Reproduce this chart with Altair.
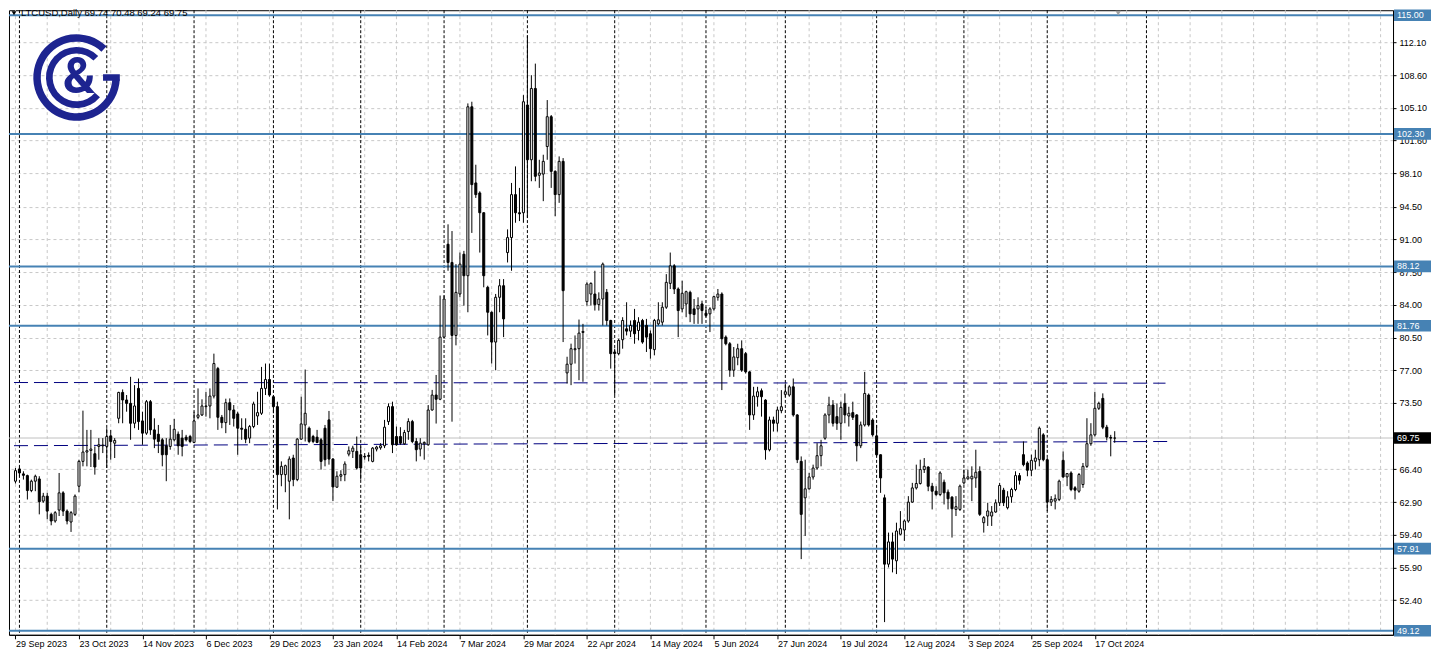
import json
import altair as alt
import pandas as pd

# ---------------- data (LTCUSD, Daily) ----------------
OPEN = [65.13, 66.44, 65.91, 65.73, 64.13, 65.13, 65.37, 63.00, 63.53, 61.58,
        60.87, 62.04, 63.88, 61.93, 60.76, 61.58, 64.59, 67.25, 68.25, 68.42,
        68.07, 68.85, 68.92, 68.85, 69.98, 69.20, 71.86, 74.63, 73.82, 73.46,
        71.33, 75.06, 71.58, 70.27, 73.64, 70.62, 70.16, 69.56, 68.92, 68.85,
        69.56, 70.16, 69.74, 69.84, 69.91, 69.28, 71.97, 72.22, 73.11, 73.18,
        74.24, 77.18, 71.97, 71.40, 73.53, 72.75, 72.33, 70.80, 70.69, 69.74,
        70.98, 72.11, 72.40, 75.06, 76.01, 74.17, 73.11, 65.83, 65.83, 65.13,
        67.61, 65.30, 69.63, 71.15, 70.80, 69.91, 69.84, 69.56, 70.80, 71.69,
        67.50, 64.49, 65.66, 65.83, 68.03, 68.32, 68.32, 67.96, 67.79, 67.89,
        67.25, 68.57, 68.71, 68.92, 71.51, 73.11, 69.91, 69.91, 69.13, 70.45,
        71.51, 69.38, 68.57, 69.13, 69.03, 72.75, 74.35, 73.90, 80.55, 90.49,
        88.54, 80.73, 85.17, 89.42, 87.12, 105.20, 97.05, 95.98, 93.86, 85.88,
        83.21, 80.02, 84.81, 86.05, 89.60, 91.20, 95.80, 93.86, 93.86, 105.39,
        99.53, 107.16, 97.87, 98.00, 100.95, 104.14, 98.29, 95.80, 99.36, 76.72,
        77.65, 79.20, 79.31, 81.05, 84.35, 85.16, 85.16, 84.03, 84.63, 85.34,
        82.33, 78.96, 78.78, 80.27, 81.44, 81.19, 82.33, 81.26, 82.33, 81.80,
        80.91, 79.21, 81.97, 82.15, 83.75, 86.30, 88.18, 85.70, 83.57, 84.10,
        85.34, 83.57, 83.57, 84.10, 83.11, 83.04, 83.57, 84.81, 85.16, 80.55,
        79.84, 77.01, 78.35, 79.31, 78.78, 76.83, 72.22, 74.17, 74.81, 73.81,
        68.49, 71.68, 71.33, 72.68, 74.42, 74.35, 75.23, 72.22, 67.25, 63.35,
        64.31, 65.58, 66.54, 67.86, 69.73, 72.22, 73.28, 72.04, 71.33, 73.46,
        72.11, 72.47, 72.22, 68.92, 71.15, 74.35, 71.68, 69.98, 67.96, 63.35,
        56.25, 58.63, 56.61, 59.45, 59.91, 60.87, 62.89, 64.41, 64.88, 66.37,
        66.65, 64.59, 64.06, 63.70, 65.02, 63.96, 63.42, 62.11, 62.11, 64.95,
        65.38, 65.38, 65.48, 66.19, 60.69, 61.40, 61.40, 61.83, 62.82, 64.17,
        62.29, 63.46, 64.24, 65.73, 67.97, 67.08, 66.30, 67.26, 67.43, 70.09,
        67.43, 62.89, 63.00, 63.18, 67.36, 65.59, 66.01, 64.42, 64.06, 64.77,
        66.72, 69.14, 70.09, 72.93, 73.99, 70.91, 69.81, 69.74]

HIGH = [66.54, 66.72, 66.19, 65.83, 65.30, 65.83, 65.66, 63.88, 63.88, 61.76,
        61.93, 66.01, 64.06, 62.11, 61.93, 63.71, 67.43, 72.68, 70.62, 70.62,
        68.85, 69.74, 69.74, 70.80, 70.62, 69.74, 74.70, 74.95, 74.35, 76.30,
        75.41, 76.12, 72.57, 73.82, 73.82, 71.86, 71.15, 69.74, 69.74, 71.15,
        71.79, 70.45, 70.62, 70.09, 70.09, 72.57, 75.06, 73.89, 74.70, 75.06,
        78.78, 77.36, 72.22, 73.96, 73.99, 73.28, 72.57, 71.86, 71.86, 71.15,
        73.64, 74.70, 77.36, 77.72, 77.72, 74.35, 73.64, 67.25, 66.90, 67.79,
        67.96, 69.74, 74.17, 77.08, 70.98, 70.09, 70.62, 69.74, 71.15, 72.65,
        67.61, 66.19, 66.30, 67.25, 68.85, 68.92, 69.91, 68.85, 68.14, 68.21,
        68.78, 68.92, 69.20, 71.69, 73.46, 73.64, 70.98, 70.91, 70.62, 71.86,
        71.69, 69.74, 69.74, 69.38, 73.28, 74.90, 76.50, 85.00, 85.00, 92.62,
        91.90, 88.36, 89.60, 89.78, 105.56, 105.74, 99.00, 96.16, 93.90, 86.05,
        83.30, 85.17, 86.76, 86.76, 92.08, 97.05, 98.82, 96.52, 106.45, 112.84,
        108.58, 109.82, 99.53, 100.07, 105.92, 104.32, 98.40, 99.89, 99.71, 78.45,
        79.85, 80.73, 82.43, 81.97, 86.41, 86.41, 87.65, 85.34, 88.53, 85.70,
        82.40, 79.31, 80.38, 82.68, 84.28, 82.33, 83.57, 82.68, 82.50, 82.50,
        81.26, 82.50, 84.28, 84.28, 87.29, 89.60, 88.36, 85.87, 86.58, 85.52,
        85.52, 84.63, 84.81, 84.45, 83.75, 83.75, 84.99, 85.70, 85.34, 80.73,
        80.02, 79.49, 79.84, 80.20, 78.96, 76.90, 75.23, 75.23, 75.05, 73.90,
        72.04, 72.04, 73.10, 74.88, 75.59, 75.41, 76.12, 72.30, 67.78, 67.43,
        66.01, 66.90, 69.20, 69.56, 72.40, 74.17, 73.81, 73.46, 73.64, 74.52,
        73.10, 73.64, 72.30, 71.51, 76.83, 74.52, 71.86, 71.15, 68.00, 63.70,
        59.63, 59.63, 60.69, 61.93, 61.04, 63.53, 64.95, 66.90, 67.43, 67.61,
        66.72, 64.95, 64.59, 66.19, 65.30, 64.24, 63.53, 63.53, 64.77, 66.37,
        66.37, 66.72, 68.50, 66.72, 61.40, 62.82, 62.47, 63.18, 64.95, 64.42,
        64.06, 64.42, 66.19, 66.01, 69.38, 67.26, 67.97, 68.50, 70.98, 70.27,
        67.61, 63.53, 63.71, 65.30, 68.32, 66.01, 66.19, 64.60, 66.01, 67.08,
        71.87, 71.34, 74.70, 73.64, 74.53, 71.16, 70.09, 70.48]

LOW = [64.88, 65.66, 65.30, 63.17, 63.95, 64.06, 61.58, 62.82, 61.05, 60.41,
       60.69, 61.40, 61.40, 60.51, 59.70, 61.40, 63.95, 66.72, 66.72, 66.65,
       65.83, 67.43, 68.14, 66.54, 67.43, 67.61, 71.33, 71.33, 72.57, 69.56,
       70.80, 70.62, 69.03, 70.09, 70.09, 68.67, 68.14, 66.72, 65.13, 68.50,
       69.38, 67.96, 67.79, 69.38, 69.20, 69.20, 71.76, 72.11, 72.04, 71.86,
       73.99, 70.62, 70.80, 70.27, 71.15, 70.98, 67.96, 69.56, 69.20, 69.20,
       70.80, 71.15, 72.22, 74.35, 74.17, 72.40, 62.11, 64.59, 63.95, 61.05,
       64.59, 65.13, 69.56, 69.38, 69.20, 69.20, 69.20, 66.37, 66.72, 66.90,
       63.00, 64.42, 65.13, 65.13, 67.79, 67.61, 66.37, 65.30, 67.43, 67.25,
       67.15, 68.32, 68.50, 68.67, 71.15, 68.14, 68.92, 69.03, 69.03, 69.56,
       69.20, 67.25, 67.79, 67.43, 68.92, 72.68, 71.30, 73.80, 80.40, 87.65,
       71.50, 79.67, 84.81, 83.92, 83.21, 91.70, 95.45, 89.60, 85.88, 80.73,
       77.72, 77.00, 83.21, 80.55, 88.54, 87.65, 92.79, 92.97, 92.79, 93.32,
       97.23, 97.23, 96.52, 95.10, 99.53, 96.52, 93.50, 94.92, 80.02, 75.59,
       75.41, 77.72, 75.94, 75.77, 83.92, 83.92, 83.39, 83.39, 81.80, 81.80,
       77.18, 74.35, 78.60, 79.31, 80.73, 80.55, 79.84, 80.20, 79.84, 78.96,
       78.25, 78.60, 81.80, 81.80, 83.57, 85.70, 85.16, 80.55, 83.21, 82.68,
       82.15, 81.97, 81.97, 81.97, 82.68, 81.09, 83.39, 84.45, 74.88, 79.67,
       76.30, 76.30, 77.54, 76.83, 76.65, 70.62, 71.69, 73.11, 72.04, 67.43,
       68.32, 70.44, 70.44, 72.40, 74.17, 74.17, 72.04, 67.07, 56.79, 59.27,
       64.24, 65.30, 66.37, 66.72, 69.56, 71.33, 70.98, 70.62, 69.56, 71.33,
       70.98, 71.68, 67.25, 68.67, 70.98, 70.98, 69.91, 67.78, 63.88, 50.05,
       55.90, 55.37, 55.19, 59.34, 58.74, 60.69, 62.82, 64.24, 64.77, 66.01,
       64.06, 62.11, 63.53, 63.53, 62.64, 62.11, 59.10, 61.40, 61.94, 64.77,
       65.30, 63.00, 64.42, 61.40, 59.63, 60.34, 60.34, 61.76, 62.47, 62.47,
       62.11, 62.82, 64.06, 64.77, 66.72, 65.66, 65.66, 66.37, 66.72, 67.26,
       61.94, 62.47, 62.11, 63.00, 65.48, 64.60, 64.06, 63.18, 63.89, 64.42,
       66.55, 68.92, 69.92, 72.75, 70.70, 69.49, 67.79, 69.24]

CLOSE = [66.26, 66.01, 65.76, 64.13, 65.13, 65.66, 62.93, 63.53, 61.93, 60.87,
         61.76, 63.88, 61.93, 60.87, 61.76, 63.53, 67.25, 68.25, 68.39, 68.57,
         66.65, 69.03, 68.99, 69.91, 69.38, 69.49, 74.63, 73.82, 73.46, 71.33,
         73.18, 71.51, 70.27, 73.64, 70.62, 69.63, 69.38, 67.96, 67.96, 69.63,
         70.69, 68.92, 68.85, 69.56, 69.38, 71.58, 72.22, 73.18, 73.18, 74.24,
         77.72, 71.97, 71.40, 73.53, 72.75, 71.86, 70.80, 70.69, 69.63, 70.98,
         73.39, 72.47, 75.06, 76.01, 74.35, 73.11, 65.83, 66.72, 66.79, 67.50,
         65.30, 69.63, 71.26, 72.40, 69.38, 69.38, 69.28, 67.25, 67.43, 67.50,
         64.52, 65.66, 65.83, 66.97, 68.39, 68.67, 66.54, 66.54, 67.72, 67.79,
         68.67, 68.78, 68.92, 70.91, 73.11, 69.03, 69.03, 69.20, 70.34, 71.51,
         69.38, 68.50, 69.20, 69.28, 72.75, 74.35, 73.90, 80.55, 84.63, 88.54,
         80.73, 85.34, 88.36, 87.12, 105.20, 96.87, 95.80, 93.86, 87.12, 83.21,
         80.02, 84.81, 86.05, 82.50, 91.20, 95.80, 93.86, 93.75, 105.74, 99.53,
         107.16, 97.76, 98.11, 99.36, 104.14, 98.29, 95.80, 99.36, 85.52, 77.65,
         79.31, 79.31, 80.98, 81.16, 86.23, 86.30, 84.03, 84.63, 88.36, 82.33,
         78.78, 78.78, 80.20, 82.33, 81.19, 81.80, 80.91, 82.15, 80.02, 80.55,
         79.31, 82.33, 82.40, 83.75, 86.41, 88.18, 85.70, 83.39, 85.24, 85.41,
         83.04, 82.97, 83.92, 83.39, 82.86, 83.57, 84.88, 85.16, 80.38, 79.84,
         77.01, 78.43, 79.31, 77.01, 76.83, 72.22, 74.24, 74.70, 74.17, 68.49,
         71.68, 71.33, 72.75, 73.10, 74.70, 75.23, 72.22, 67.43, 61.58, 64.31,
         65.58, 66.54, 67.86, 68.92, 72.22, 73.28, 71.33, 71.33, 73.03, 72.22,
         72.40, 71.97, 68.92, 71.15, 74.52, 71.15, 70.09, 67.96, 65.48, 56.25,
         58.63, 56.79, 59.80, 60.05, 60.87, 62.89, 64.41, 64.88, 66.37, 66.72,
         64.59, 64.06, 63.70, 66.01, 63.89, 63.25, 62.18, 62.40, 64.60, 65.48,
         65.59, 65.66, 66.09, 61.58, 61.23, 61.94, 61.83, 62.82, 64.67, 62.82,
         63.46, 64.24, 65.73, 65.23, 66.90, 66.30, 67.36, 67.61, 70.80, 67.43,
         62.89, 63.18, 63.25, 65.13, 65.59, 65.94, 64.24, 64.17, 65.84, 66.72,
         69.14, 70.09, 72.93, 73.46, 70.91, 69.85, 69.74, 69.75]

DATE_LABELS = ["29 Sep 2023", "23 Oct 2023", "14 Nov 2023", "6 Dec 2023",
               "29 Dec 2023", "23 Jan 2024", "14 Feb 2024", "7 Mar 2024",
               "29 Mar 2024", "22 Apr 2024", "14 May 2024", "5 Jun 2024",
               "27 Jun 2024", "19 Jul 2024", "12 Aug 2024", "3 Sep 2024",
               "25 Sep 2024", "17 Oct 2024"]
LABEL_STEP = 16          # bars between date labels
GRID_STEP = 8            # bars between vertical grid lines
MONTH_STARTS = [1, 23, 45, 65, 87, 108, 129, 151, 174, 194, 217, 239, 260, 285]
LEVELS = [115.00, 102.30, 88.12, 81.76, 57.91, 49.12]
Y_TICKS = [112.10, 108.60, 105.10, 101.60, 98.10, 94.50, 91.00, 87.50, 84.00,
           80.50, 77.00, 73.50, 66.40, 62.90, 59.40, 55.90, 52.40]
UPPER_DASH = [75.69, 75.62]   # start / end price
LOWER_DASH = [68.93, 69.38]
DASH_END = [289.8, 290.8]     # bar index where each dashed line ends
LAST_PRICE = 69.75

# ---------------- layout ----------------
FONT = "Liberation Sans"
W, H = 1385, 625
N = len(OPEN)
X_DOM = [-0.375, 345.875]          # 4 px per bar
Y_DOM = [48.692, 115.535]
xs = alt.Scale(domain=X_DOM, nice=False, zero=False)
ys = alt.Scale(domain=Y_DOM, nice=False, zero=False)
LEVEL_BLUE = "#4682b4"
LOGO = "#1d2490"

x_axis = alt.Axis(
    values=list(range(0, N, LABEL_STEP)),
    labelExpr=f"{json.dumps(DATE_LABELS)}[round(datum.value / {LABEL_STEP})]",
    labelAlign="left", labelFont=FONT, labelFontSize=9, labelColor="black",
    labelPadding=1, tickSize=4, tickColor="black", domainColor="black",
    grid=False, title=None, labelOverlap=False, labelFlush=False, labelBound=False,
)
y_axis = alt.Axis(
    orient="right", values=Y_TICKS, format=".2f", labelFont=FONT, labelFontSize=9,
    labelColor="black", labelPadding=3, tickSize=3, tickColor="black",
    domainColor="black", grid=True, gridColor="#c8c8c8", gridDash=[3, 3],
    title=None, labelOverlap=False, labelBound=False,
)


def X(field):
    return alt.X(field, type="quantitative", scale=xs, axis=x_axis)


def Y(field):
    return alt.Y(field, type="quantitative", scale=ys, axis=y_axis)


candles = pd.DataFrame({"i": range(N), "o": OPEN, "h": HIGH, "l": LOW, "c": CLOSE})
candles["fill"] = ["white" if c >= o else "black" for o, c in zip(OPEN, CLOSE)]

one = pd.DataFrame({"a": [0]})

vgrid = alt.Chart(pd.DataFrame({"g": list(range(0, int(X_DOM[1]) + 1, GRID_STEP))})).mark_rule(
    color="#c8c8c8", strokeDash=[3, 3], strokeWidth=1).encode(x=X("g"))

months = alt.Chart(pd.DataFrame({"m": MONTH_STARTS})).mark_rule(
    color="black", strokeDash=[3, 2], strokeWidth=1).encode(x=X("m"))

price_line = alt.Chart(pd.DataFrame({"v": [LAST_PRICE]})).mark_rule(
    color="#c0c0c0", strokeWidth=1).encode(y=Y("v"))

levels = alt.Chart(pd.DataFrame({"v": LEVELS})).mark_rule(
    color=LEVEL_BLUE, strokeWidth=2).encode(y=Y("v"))

dash_df = pd.DataFrame({
    "x0": [X_DOM[0], X_DOM[0]], "x1": DASH_END,
    "y0": [UPPER_DASH[0], LOWER_DASH[0]], "y1": [UPPER_DASH[1], LOWER_DASH[1]],
})
dashed = alt.Chart(dash_df).mark_rule(color="#000080", strokeDash=[14, 6], strokeWidth=1).encode(
    x=X("x0"), x2="x1", y=Y("y0"), y2="y1")

wicks = alt.Chart(candles).mark_rule(color="black", strokeWidth=1).encode(
    x=X("i"), y=Y("l"), y2="h")

bodies = alt.Chart(candles).mark_bar(size=2, stroke="black", strokeWidth=1).encode(
    x=X("i"), y=Y("o"), y2="c",
    fill=alt.Fill("fill", type="nominal", scale=None))

lab_df = pd.DataFrame({
    "v": LEVELS + [LAST_PRICE],
    "txt": [f"{v:.2f}" for v in LEVELS + [LAST_PRICE]],
    "col": [LEVEL_BLUE] * len(LEVELS) + ["black"],
})
lab_df["lo"] = lab_df["v"] - 0.62
lab_df["hi"] = lab_df["v"] + 0.62
lab_box = alt.Chart(lab_df).mark_rect().encode(
    x=alt.value(W + 1), x2=alt.value(W + 38), y=Y("lo"), y2="hi",
    fill=alt.Fill("col", type="nominal", scale=None))
lab_txt = alt.Chart(lab_df).mark_text(
    align="left", baseline="middle", font=FONT, fontSize=9, color="white").encode(
    x=alt.value(W + 4), y=Y("v"), text="txt")

header_text = (f"LTCUSD,Daily  {OPEN[-1]:.2f} {HIGH[-1]:.2f} "
               f"{LOW[-1]:.2f} {CLOSE[-1]:.2f}")
header_tri = alt.Chart(one).mark_point(
    shape="triangle-down", filled=True, color="black", size=22, opacity=1).encode(
    x=alt.value(5), y=alt.value(3))
header = alt.Chart(one).mark_text(
    text=header_text, align="left", baseline="middle", font=FONT, fontSize=9.5,
    color="black").encode(x=alt.value(12), y=alt.value(3))
shift_tri = alt.Chart(one).mark_point(
    shape="triangle-down", filled=True, color="#a0a0a0", size=30, opacity=1).encode(
    x=alt.value(1110), y=alt.value(3))

# logo (decoration)
CX, CY = 67.6, 67.3
logo_outer = alt.Chart(one).mark_arc(
    theta=1.62, theta2=7.05, radius=43.3, radius2=35.8, color=LOGO).encode(
    x=alt.value(CX), y=alt.value(CY))
logo_inner = alt.Chart(one).mark_arc(
    theta=2.27, theta2=7.07, radius=30.6, radius2=23.9, color=LOGO).encode(
    x=alt.value(CX), y=alt.value(CY))
logo_bar = alt.Chart(one).mark_rect(color=LOGO).encode(
    x=alt.value(CX + 26.5), x2=alt.value(CX + 43.3), y=alt.value(CY - 3.2), y2=alt.value(CY + 3.4))
logo_amp = alt.Chart(one).mark_text(
    text="&", font="Roboto", fontWeight="bold", fontSize=50, color=LOGO,
    align="center", baseline="middle").encode(x=alt.value(CX + 2.7), y=alt.value(CY + 1))

chart = alt.layer(
    vgrid, months, price_line, levels, dashed, wicks, bodies,
    lab_box, lab_txt, header_tri, header, shift_tri,
    logo_outer, logo_inner, logo_bar, logo_amp,
).properties(
    width=W, height=H, padding=0, background="white",
).configure_view(
    stroke="black", strokeWidth=1,
)

chart.save("out.html", embed_options={"renderer": "svg", "actions": False})
